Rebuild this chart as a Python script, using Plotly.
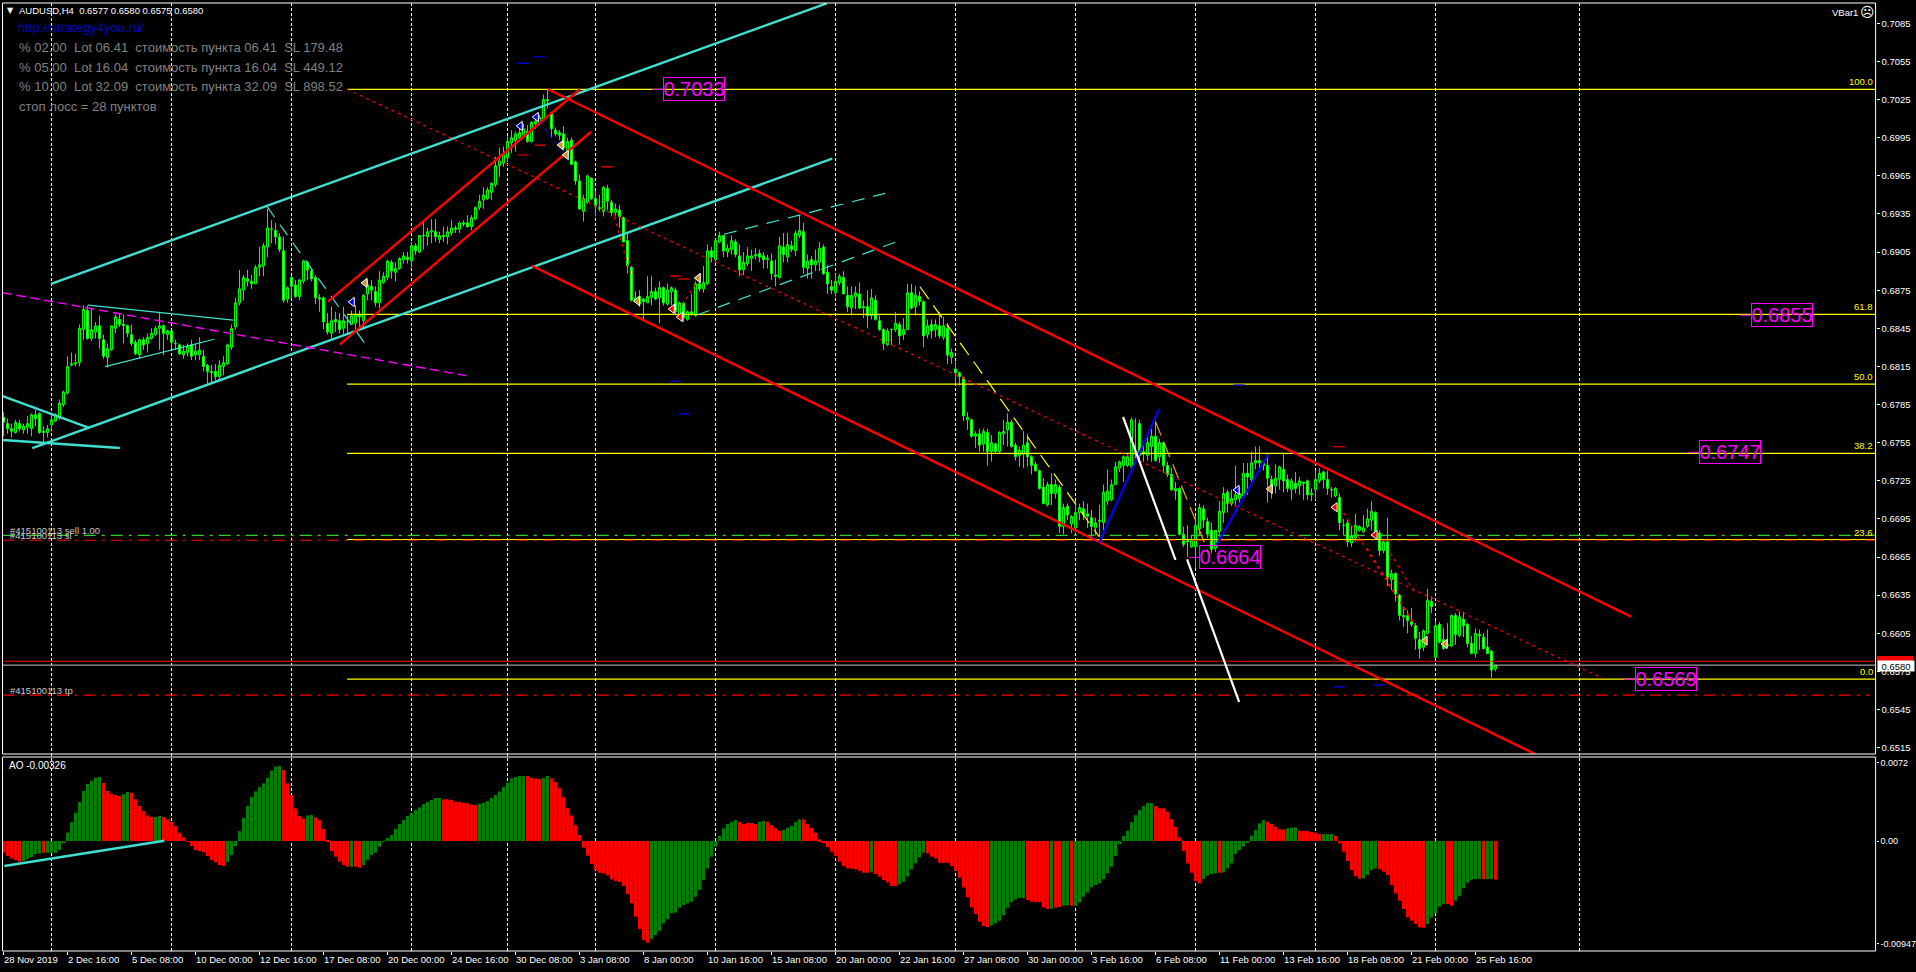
import plotly.graph_objects as go

W, H = 1916, 972
FONT = "Liberation Sans"

# ---------- price data (in 1/10000 of a price unit) ----------
opens = [
6775,6770,6766,6763,6770,6765,6767,6766,6777,6778,
6763,6763,6769,6772,6775,6785,6794,6816,6817,6818,
6844,6859,6837,6842,6847,6836,6822,6828,6845,6852,
6848,6847,6840,6834,6824,6836,6833,6837,6840,6845,
6847,6840,6843,6833,6832,6824,6826,6832,6824,6824,
6823,6816,6811,6811,6807,6815,6817,6830,6846,6865,
6875,6884,6882,6880,6893,6894,6909,6923,6922,6917,
6906,6868,6885,6879,6870,6882,6897,6890,6885,6869,
6869,6849,6841,6852,6851,6845,6850,6848,6849,6856,
6851,6872,6878,6874,6865,6881,6885,6897,6889,6892,
6899,6901,6898,6910,6905,6918,6917,6921,6921,6915,
6918,6917,6920,6924,6923,6928,6928,6925,6931,6940,
6946,6947,6952,6958,6973,6975,6979,6991,6993,6995,
6997,7000,6992,7006,7007,7010,7025,7015,7001,6999,
6998,6985,6993,6976,6961,6937,6944,6963,6947,6940,
6937,6955,6944,6936,6938,6932,6914,6893,6866,6870,
6868,6865,6869,6874,6869,6877,6864,6874,6875,6856,
6865,6852,6858,6855,6880,6876,6880,6906,6899,6913,
6918,6905,6907,6913,6902,6891,6896,6900,6902,6904,
6902,6899,6898,6887,6885,6909,6901,6910,6906,6918,
6921,6892,6899,6895,6897,6909,6889,6878,6873,6881,
6885,6871,6861,6870,6872,6861,6862,6855,6867,6851,
6844,6832,6844,6844,6848,6840,6844,6873,6862,6870,
6866,6840,6848,6844,6847,6838,6845,6822,6813,6810,
6806,6773,6773,6760,6762,6754,6763,6748,6754,6748,
6762,6765,6771,6753,6745,6746,6755,6744,6738,6733,
6720,6706,6722,6715,6720,6689,6705,6691,6688,6700,
6703,6699,6696,6688,6693,6692,6709,6710,6722,6735,
6737,6737,6736,6746,6770,6746,6745,6752,6760,6744,
6755,6737,6730,6717,6719,6683,6678,6673,6673,6687,
6703,6693,6686,6672,6685,6700,6716,6707,6710,6711,
6713,6731,6726,6739,6741,6739,6737,6726,6721,6726,
6734,6726,6718,6723,6721,6724,6725,6714,6718,6725,
6732,6726,6718,6713,6712,6690,6692,6676,6680,6686,
6685,6689,6694,6700,6684,6670,6677,6647,6652,6635,
6619,6619,6614,6611,6600,6594,6605,6630,6586,6612,
6600,6595,6595,6619,6603,6616,6612,6597,6589,6604,
6602,6594,6591,6577]
highs = [
6779,6774,6770,6773,6773,6770,6776,6778,6781,6779,
6768,6769,6777,6778,6789,6796,6823,6826,6825,6848,
6863,6863,6861,6850,6855,6840,6833,6847,6856,6856,
6856,6848,6848,6836,6837,6838,6841,6845,6847,6858,
6848,6844,6843,6836,6833,6832,6833,6836,6833,6838,
6828,6817,6816,6817,6820,6823,6833,6848,6869,6891,
6887,6891,6887,6895,6909,6912,6939,6930,6928,6920,
6917,6878,6886,6883,6884,6899,6898,6892,6887,6872,
6870,6857,6862,6858,6857,6862,6855,6859,6863,6859,
6872,6883,6883,6878,6890,6889,6899,6899,6897,6901,
6905,6905,6913,6912,6918,6929,6924,6931,6931,6921,
6925,6925,6930,6926,6929,6930,6934,6934,6941,6950,
6956,6956,6960,6980,6987,6988,6996,7001,7000,7004,
7006,7005,7008,7010,7013,7029,7033,7015,7003,7001,
7004,6995,6995,6977,6966,6950,6966,6964,6953,6950,
6957,6958,6946,6943,6942,6933,6920,6894,6874,6875,
6869,6886,6886,6877,6882,6878,6880,6878,6877,6866,
6866,6859,6872,6882,6883,6894,6911,6909,6915,6921,
6918,6911,6918,6915,6911,6905,6909,6907,6908,6907,
6905,6903,6904,6899,6917,6920,6920,6914,6922,6934,
6928,6903,6902,6907,6913,6911,6895,6883,6888,6888,
6890,6878,6878,6878,6881,6867,6875,6876,6871,6855,
6845,6845,6845,6858,6850,6853,6880,6880,6878,6874,
6867,6852,6852,6852,6858,6854,6849,6829,6819,6811,
6807,6779,6774,6764,6766,6766,6766,6761,6755,6764,
6773,6778,6773,6755,6752,6764,6762,6745,6740,6734,
6727,6724,6731,6726,6722,6707,6707,6698,6709,6707,
6709,6707,6702,6696,6706,6722,6734,6726,6740,6741,
6745,6747,6775,6774,6773,6756,6761,6766,6772,6758,
6756,6740,6735,6724,6720,6689,6690,6682,6697,6707,
6706,6696,6692,6686,6709,6720,6718,6718,6737,6720,
6739,6739,6748,6752,6752,6741,6747,6729,6738,6737,
6746,6730,6727,6732,6728,6724,6726,6719,6733,6735,
6733,6733,6720,6720,6715,6695,6695,6690,6699,6690,
6698,6703,6709,6701,6686,6678,6696,6655,6653,6636,
6626,6623,6625,6613,6606,6608,6640,6634,6615,6614,
6609,6613,6620,6621,6622,6622,6613,6603,6609,6608,
6605,6608,6592,6580]
lows = [
6760,6762,6759,6762,6764,6762,6762,6760,6768,6762,
6753,6759,6765,6771,6773,6783,6793,6815,6815,6815,
6836,6836,6835,6837,6829,6821,6814,6827,6841,6846,
6833,6838,6831,6824,6821,6828,6826,6836,6839,6828,
6824,6836,6829,6828,6824,6821,6823,6820,6820,6820,
6811,6800,6802,6804,6804,6808,6816,6828,6844,6863,
6867,6878,6876,6880,6886,6886,6901,6912,6911,6905,
6865,6865,6869,6869,6867,6880,6883,6882,6864,6858,
6844,6840,6837,6842,6841,6840,6840,6848,6844,6846,
6846,6867,6867,6862,6861,6880,6883,6884,6882,6891,
6896,6896,6893,6903,6904,6907,6910,6912,6913,6912,
6913,6911,6918,6920,6920,6925,6924,6922,6930,6938,
6939,6946,6946,6956,6964,6972,6976,6983,6984,6992,
6995,6991,6991,7002,7005,7009,7018,6995,6996,6993,
6985,6983,6974,6958,6938,6929,6943,6946,6933,6937,
6933,6938,6933,6933,6924,6913,6888,6866,6865,6862,
6851,6865,6863,6867,6849,6863,6863,6863,6855,6854,
6850,6851,6855,6854,6874,6873,6879,6897,6897,6912,
6901,6901,6903,6901,6886,6887,6894,6890,6899,6897,
6892,6892,6883,6878,6884,6897,6897,6905,6902,6916,
6888,6884,6884,6890,6890,6887,6872,6872,6870,6879,
6872,6858,6855,6860,6860,6853,6845,6852,6851,6843,
6828,6831,6832,6842,6832,6836,6844,6860,6855,6863,
6830,6837,6837,6838,6837,6836,6817,6817,6800,6800,
6772,6765,6759,6751,6748,6748,6737,6740,6747,6747,
6753,6752,6751,6741,6736,6735,6736,6730,6732,6718,
6707,6705,6706,6711,6684,6683,6694,6684,6685,6694,
6694,6688,6681,6682,6681,6686,6706,6709,6722,6732,
6724,6736,6735,6743,6741,6740,6741,6740,6740,6739,
6731,6728,6717,6710,6682,6673,6665,6672,6656,6682,
6688,6680,6668,6669,6681,6692,6700,6705,6706,6707,
6713,6714,6724,6734,6732,6733,6708,6711,6715,6718,
6716,6716,6710,6715,6714,6710,6710,6709,6710,6723,
6719,6714,6712,6712,6686,6682,6673,6673,6677,6685,
6684,6688,6686,6680,6666,6668,6642,6639,6630,6615,
6610,6605,6610,6592,6585,6591,6604,6621,6585,6597,
6592,6594,6594,6596,6602,6602,6594,6589,6586,6592,
6592,6589,6570,6575]
closes = [
6771,6766,6764,6771,6766,6768,6770,6777,6774,6763,
6764,6766,6773,6777,6786,6795,6815,6817,6818,6845,
6860,6837,6844,6847,6837,6823,6829,6847,6854,6848,
6847,6841,6833,6825,6836,6832,6838,6841,6845,6847,
6841,6843,6834,6833,6825,6827,6831,6823,6827,6828,
6815,6811,6810,6807,6816,6818,6832,6845,6865,6876,
6885,6882,6880,6893,6895,6910,6924,6923,6917,6907,
6867,6877,6878,6870,6883,6898,6891,6884,6869,6868,
6850,6842,6851,6850,6844,6851,6850,6855,6856,6854,
6871,6879,6875,6865,6883,6886,6898,6890,6892,6900,
6902,6899,6910,6906,6918,6918,6921,6922,6917,6918,
6917,6921,6924,6923,6928,6927,6925,6932,6940,6945,
6950,6954,6959,6973,6977,6982,6992,6995,6998,6999,
7002,6992,7007,7008,7011,7025,7024,7002,6998,6997,
6987,6992,6974,6961,6939,6947,6965,6947,6941,6939,
6956,6945,6936,6939,6933,6913,6894,6867,6869,6864,
6866,6870,6874,6868,6877,6865,6875,6877,6858,6865,
6853,6858,6856,6880,6876,6881,6906,6901,6914,6918,
6906,6908,6914,6903,6891,6897,6902,6902,6903,6901,
6899,6900,6888,6886,6910,6903,6911,6907,6920,6922,
6893,6898,6895,6898,6908,6888,6880,6875,6882,6886,
6872,6862,6871,6873,6861,6862,6855,6869,6852,6844,
6833,6843,6844,6849,6839,6844,6873,6861,6871,6866,
6839,6847,6843,6848,6839,6847,6824,6826,6810,6807,
6776,6775,6760,6762,6753,6764,6748,6755,6748,6763,
6764,6771,6752,6744,6749,6753,6744,6737,6733,6719,
6707,6722,6715,6722,6689,6704,6698,6697,6700,6704,
6698,6697,6689,6692,6694,6716,6717,6722,6736,6740,
6744,6744,6773,6747,6745,6748,6755,6760,6741,6755,
6737,6730,6718,6719,6683,6675,6677,6678,6690,6704,
6694,6683,6671,6686,6701,6715,6707,6711,6714,6715,
6731,6728,6739,6741,6739,6737,6727,6720,6727,6736,
6725,6719,6725,6719,6725,6723,6714,6715,6726,6731,
6726,6719,6718,6719,6692,6690,6677,6682,6690,6689,
6688,6695,6701,6682,6670,6677,6648,6652,6636,6619,
6618,6615,6612,6601,6593,6607,6631,6626,6611,6598,
6593,6596,6619,6604,6618,6611,6597,6589,6605,6603,
6593,6589,6576,6580]

# ---------- Awesome Oscillator (in 1/100000) ----------
ao_values = [
-107,-138,-160,-175,-190,-184,-166,-150,-120,-114,
-107,-107,-107,-107,-83,-21,77,172,261,359,
460,525,556,583,589,534,460,436,424,414,
430,451,445,384,322,276,236,221,221,230,
221,200,175,138,77,34,-3,-46,-83,-92,
-104,-138,-175,-196,-221,-230,-193,-129,-46,92,
212,322,405,457,497,531,583,648,685,691,
654,531,424,301,230,209,236,239,218,193,
111,9,-92,-144,-190,-221,-236,-236,-236,-246,
-221,-175,-129,-107,-52,-9,28,55,111,157,
193,233,255,286,310,341,359,378,396,396,
384,384,378,362,359,353,347,335,332,344,
353,368,396,424,457,497,537,577,589,599,
599,599,583,574,571,580,599,577,543,488,
405,304,236,147,55,-61,-135,-212,-267,-292,
-298,-316,-353,-368,-378,-414,-488,-574,-697,-810,
-912,-936,-900,-866,-826,-758,-721,-666,-660,-614,
-589,-574,-559,-513,-451,-359,-252,-144,-52,46,
117,157,178,193,175,157,166,166,157,178,
184,178,147,117,95,101,123,138,175,200,
200,157,120,77,15,-21,-58,-98,-138,-190,
-230,-252,-255,-261,-273,-292,-292,-282,-304,-328,
-359,-381,-414,-414,-399,-375,-328,-261,-206,-150,
-107,-114,-144,-160,-200,-200,-200,-230,-273,-338,
-427,-519,-611,-672,-743,-783,-792,-777,-758,-734,
-682,-614,-562,-537,-525,-525,-543,-559,-562,-562,
-611,-626,-623,-614,-608,-596,-593,-596,-599,-568,
-513,-476,-427,-405,-390,-350,-298,-236,-138,-28,
46,95,175,239,286,322,350,350,322,301,
301,270,200,132,34,-92,-206,-292,-368,-390,
-350,-319,-304,-298,-292,-289,-252,-206,-120,-83,
-52,-15,52,101,163,193,178,157,132,107,
107,117,123,126,95,92,92,83,77,64,
64,64,64,46,-21,-98,-184,-267,-322,-347,
-344,-313,-267,-252,-261,-282,-313,-405,-482,-550,
-626,-703,-734,-764,-795,-798,-764,-706,-666,-605,
-580,-580,-596,-550,-507,-436,-384,-356,-350,-347,
-350,-350,-350,-356]
ao_runs = [("r",5),("g",5),("r",1),("g",14),("r",5),("g",2),("r",6),("g",2),("r",16),("g",14),
           ("r",6),("g",2),("r",9),("g",1),("r",2),("g",20),("r",9),("g",12),("r",4),("g",2),
           ("r",25),("g",22),("r",5),("g",2),("r",4),("g",5),("r",17),("g",1),("r",6),("g",7),
           ("r",16),("g",9),("r",6),("g",1),("r",2),("g",2),("r",1),("g",20),("r",12),("g",4),
           ("r",1),("g",11),("r",5),("g",3),("r",6),("g",3),("r",7),("g",4),("r",12),("g",5),
           ("r",2),("g",7),("r",1),("g",2),("r",1)]

assert len(opens) == len(highs) == len(lows) == len(closes) == len(ao_values) == 374

# ---------- axis labels ----------
date_labels = ["28 Nov 2019","2 Dec 16:00","5 Dec 08:00","10 Dec 00:00","12 Dec 16:00","17 Dec 08:00",
               "20 Dec 00:00","24 Dec 16:00","30 Dec 08:00","3 Jan 08:00","8 Jan 00:00","10 Jan 16:00",
               "15 Jan 08:00","20 Jan 00:00","22 Jan 16:00","27 Jan 08:00","30 Jan 00:00","3 Feb 16:00",
               "6 Feb 08:00","11 Feb 00:00","13 Feb 16:00","18 Feb 08:00","21 Feb 00:00","25 Feb 16:00"]
date_bars = list(range(0, 369, 16))
price_ticks = [0.7085,0.7055,0.7025,0.6995,0.6965,0.6935,0.6905,0.6875,0.6845,0.6815,
               0.6785,0.6755,0.6725,0.6695,0.6665,0.6635,0.6605,0.6575,0.6545,0.6515]
ao_ticks = [0.0072, 0.0, -0.00947]
ao_tick_text = ["0.0072", "0.00", "-0.00947"]
separators = [12,42,72,102,126,148,178,208,238,268,298,328,358,394]

# ---------- drawn objects: (bar, price) end points ----------
X_END = 468.025
fib_levels = [("100.0",0.7033),("61.8",0.6856),("50.0",0.6801),("38.2",0.67466),("23.6",0.66788),("0.0",0.6569)]
thick_cyan = [[(11.9,.68799),(205.8,.71007)],[(7.2,.67508),(207.2,.69785)],
              [(-0.2,.67917),(21.4,.67666)],[(-0.2,.67571),(29.1,.67508)]]
thin_cyan = [[(21.1,.68633),(57.5,.68515)],[(25.4,.68148),(52.7,.68364)]]
dash_cyan = [[(65.9,.69407),(90.8,.68311)],[(180.1,.69190),(220.4,.69512)],[(173.4,.68555),(224.9,.69150)]]
magenta_line = [(-0.2,.68730),(117,.68070)]
thick_red = [[(81.1,.68660),(144.1,.70331)],[(84.1,.68324),(146.9,.69997)],
             [(136.1,.70331),(406.9,.66181)],[(132,.68943),(382.9,.65100)]]
dotted_red = [[(85.9,.70331),(399.8,.65696)],[(335,.66997),(352.4,.66131)],[(340.9,.66719),(352.4,.66142)],
              [(346.7,.66680),(352.9,.66365)],[(152.7,.69328),(156.8,.68870)],[(169.7,.68633),(173.1,.68804)]]
dotted_blue = [[(134.3,.70076),(139.7,.69827)],[(89.7,.68791),(87.6,.68673)]]
thick_blue = [[(288.9,.67815),(273.9,.66763)],[(316.1,.67453),(303.2,.66745)]]
thick_white = [[(279.9,.67752),(293,.66627)],[(295.9,.66632),(308.9,.65511)]]
dash_yellow = [(229.1,.68777),(273.9,.66810)]
dash_orange = [(288,.67715),(301.5,.66666)]
ao_line = [(0.2,-0.0023),(40.2,0.00003)]

red_ticks = [(134.2,.69892),(129.9,.69814),(150.9,.69720),(168,.68861),(170.1,.68838),(333.9,.67518)]
blue_ticks = [(134,.70587),(129.9,.70535),(168,.68035),(170,.67776),(308.9,.68004),(333.9,.65628),(343.9,.65643)]
blue_arrows = [(87.2,.68657),(129.2,.70042),(133.2,.70113),(308.4,.67178)]
orange_arrows = [(90.4,.68807),(139.4,.69892),(140.7,.69814),(173.7,.68846),(158.5,.68665),(316.7,.67186),(355.4,.65992),(360.4,.65966)]
red_arrows = [(167.2,.68602),(169.2,.68539),(332.9,.67042),(342.9,.66824)]

price_boxes = [("0.7033",172.5,.7033,162.2,164.8),("0.6855",444.5,.68553,434.2,436.7),
               ("0.6747",431.5,.67474,421.2,423.8),("0.6664",306.5,.66647,296.4,298.8),
               ("0.6569",415.5,.65688,405.2,407.8)]
level_order = 0.66821
level_sl = 0.66782
level_tp = 0.65563
level_ask = 0.65830
level_bid = 0.65799

info_lines = ["% 02.00  Lot 06.41  стоимость пункта 06.41  SL 179.48",
              "% 05.00  Lot 16.04  стоимость пункта 16.04  SL 449.12",
              "% 10.00  Lot 32.09  стоимость пункта 32.09  SL 898.52",
              "стоп лосс = 28 пунктов"]

CYAN = "#40e0d0"
bars = list(range(len(opens)))
fig = go.Figure()

fig.add_trace(go.Candlestick(
    x=bars, open=[v/1e4 for v in opens], high=[v/1e4 for v in highs],
    low=[v/1e4 for v in lows], close=[v/1e4 for v in closes],
    increasing=dict(line=dict(color="#00ff00", width=1), fillcolor="#000000"),
    decreasing=dict(line=dict(color="#00ff00", width=1), fillcolor="#ffffff"),
    whiskerwidth=0, hoverinfo="skip", xaxis="x", yaxis="y"))

ao_flags = [c for c, n in ao_runs for _ in range(n)]
fig.add_trace(go.Bar(x=bars, y=[v/1e5 for v in ao_values],
                     marker=dict(color=["#008000" if c == "g" else "#ff0000" for c in ao_flags], line=dict(width=0)),
                     hoverinfo="skip", xaxis="x", yaxis="y2"))

def add_line(pts, color, width, dash="solid", yaxis="y"):
    fig.add_trace(go.Scatter(x=[p[0] for p in pts], y=[p[1] for p in pts], mode="lines",
                             line=dict(color=color, width=width, dash=dash),
                             hoverinfo="skip", xaxis="x", yaxis=yaxis))

def add_points(pts, symbol, color, size, outline, lw=1):
    fig.add_trace(go.Scatter(x=[p[0] for p in pts], y=[p[1] for p in pts], mode="markers",
                             marker=dict(symbol=symbol, color=color, size=size, line=dict(color=outline, width=lw)),
                             hoverinfo="skip", xaxis="x", yaxis="y"))

for _, lv in fib_levels:
    add_line([(85.9, lv), (X_END, lv)], "#ffff00", 1.2)
add_line([(-0.2, level_order), (X_END, level_order)], "#32cd32", 1.2, "12px,6px,3px,6px")
add_line([(-0.2, level_sl), (X_END, level_sl)], "#ff0000", 1.2, "12px,6px,3px,6px")
add_line([(-0.2, level_tp), (466.6, level_tp)], "#ff0000", 1.2, "12px,6px,3px,6px")
add_line([(-0.2, level_ask), (X_END, level_ask)], "#ff0000", 1.2)
add_line([(-0.2, level_bid), (X_END, level_bid)], "#a0a0a0", 1.2)

for seg in thick_cyan:
    add_line(seg, CYAN, 2.4)
for seg in thin_cyan:
    add_line(seg, CYAN, 1.2)
for seg in dash_cyan:
    add_line(seg, CYAN, 1.2, "13px,9px")
add_line(magenta_line, "#ff00ff", 1.4, "9px,5px")
for seg in thick_red:
    add_line(seg, "#ff0000", 2.4)
for seg in dotted_red:
    add_line(seg, "#ff0000", 1.2, "3px,4px")
for seg in dotted_blue:
    add_line(seg, "#0000ff", 1.2, "3px,5px")
for seg in thick_blue:
    add_line(seg, "#0000ff", 2.2)
for seg in thick_white:
    add_line(seg, "#ffffff", 2.2)
add_line(dash_yellow, "#ffff00", 1.2, "15px,8px")
add_line(dash_orange, "#e6a800", 1.2, "15px,8px")
add_line(ao_line, CYAN, 2.4, yaxis="y2")

add_points(red_ticks, "line-ew", "#ff0000", 8, "#ff0000", 1.2)
add_points(blue_ticks, "line-ew", "#0000ff", 8, "#0000ff", 1.2)
add_points(blue_arrows, "triangle-left", "#0000ff", 8, "#ffffff")
add_points(orange_arrows, "triangle-left", "#c8962d", 8, "#ffffff")
add_points(red_arrows, "triangle-left", "#ff0000", 8, "#ffffff")

annotations = []

def px_text(text, x, y, size, color, anchor="left", family=FONT, **kw):
    annotations.append(dict(text=text, xref="paper", yref="paper", x=x/W, y=1-y/H, xanchor=anchor,
                            yanchor="middle", showarrow=False, font=dict(family=family, size=size, color=color), **kw))

for txt, bx, pr, stem0, stem1 in price_boxes:
    add_line([(stem0, pr), (stem1, pr)], "#ff00ff", 1)
    annotations.append(dict(text=txt, xref="x", yref="y", x=bx, y=pr, showarrow=False, width=60, height=22,
                            bordercolor="#ff00ff", borderwidth=1, borderpad=0, xanchor="center", yanchor="middle",
                            font=dict(family=FONT, size=20, color="#ff00ff")))

for txt, lv in fib_levels:
    annotations.append(dict(text=txt, xref="paper", yref="y", x=1875/W, y=lv, showarrow=False, xanchor="right",
                            yanchor="bottom", yshift=0, font=dict(family=FONT, size=9.5, color="#ffff00")))

px_text("▼", 5, 11, 8, "#ffffff", family="DejaVu Sans")
px_text("AUDUSD,H4  0.6577 0.6580 0.6575 0.6580", 17, 11, 9.5, "#ffffff")
px_text("http://strategy4you.ru/", 16, 27, 13, "#0000c8")
for k, line in enumerate(info_lines):
    px_text(line, 17, 47 + 20*k, 13, "#808080")
px_text("#415100113 sell 1.00", 8, 530, 9.5, "#c8c8c8")
px_text("#415100113 sl", 8, 535, 9.5, "#c8c8c8")
px_text("#415100113 tp", 8, 690, 9.5, "#c8c8c8")
px_text("AO -0.00326", 7, 765.7, 10, "#ffffff")
px_text("VBar1", 1830, 12, 9.5, "#ffffff")
px_text("☹", 1858, 12, 14, "#ffffff", family="DejaVu Sans")
px_text("0.6580", 1877, 666.2, 9.5, "#000000", bgcolor="#ffffff", width=36, height=10, borderpad=0, align="center")

shapes = [dict(type="line", xref="x", yref="paper", x0=s, x1=s, y0=1-951/H, y1=1-3/H, layer="below",
               line=dict(color="#ffffff", width=1, dash="3px,2px")) for s in separators]
for top, bot in [(3, 754), (757, 951)]:
    shapes.append(dict(type="rect", xref="paper", yref="paper", x0=2.5/W, x1=1875.6/W, y0=1-bot/H, y1=1-top/H,
                       layer="above", line=dict(color="#ffffff", width=1)))
shapes.append(dict(type="rect", xref="paper", yref="paper", x0=1877/W, x1=1913/W, y0=1-662/H, y1=1-656/H,
                   layer="above", fillcolor="#ff0000", line=dict(width=0)))

date_font = dict(family=FONT, size=9.5, color="#ffffff")
price_font = dict(family=FONT, size=9.5, color="#ffffff")
ao_font = dict(family=FONT, size=9, color="#ffffff")
fig.update_layout(
    width=W, height=H, margin=dict(l=0, r=0, t=0, b=0), autosize=False,
    paper_bgcolor="#000000", plot_bgcolor="#000000", showlegend=False, bargap=0.25,
    boxgap=0.3, boxgroupgap=0.3, annotations=annotations, shapes=shapes,
    xaxis=dict(domain=[2.5/W, 1875.6/W], range=[-0.25, X_END], anchor="y2", tickmode="array",
               tickvals=date_bars, ticktext=date_labels, ticklabelposition="outside right", ticks="outside",
               ticklen=3, tickcolor="#ffffff", tickfont=date_font, tickangle=0, automargin=False, showgrid=False,
               zeroline=False, showline=False, rangeslider=dict(visible=False), fixedrange=True),
    yaxis=dict(domain=[1-754/H, 1-3/H], range=[0.65100, 0.71010], side="right", anchor="x", tickmode="array",
               tickvals=price_ticks, ticktext=["%.4f" % v for v in price_ticks], ticks="outside", ticklen=3,
               automargin=False, tickcolor="#ffffff", tickfont=price_font, showgrid=False, zeroline=False,
               showline=False, fixedrange=True),
    yaxis2=dict(domain=[1-951/H, 1-757/H], range=[-0.01013, 0.00774], side="right", anchor="x", tickmode="array",
                tickvals=ao_ticks, ticktext=ao_tick_text, ticks="outside", ticklen=2, tickcolor="#ffffff",
                automargin=False, tickfont=ao_font, showgrid=False, zeroline=False, showline=False, fixedrange=True),
)

fig.write_html("out.html", config=dict(displayModeBar=False),
               post_script="document.body.style.margin='0';document.body.style.background='#000';document.body.style.overflow='hidden';")
